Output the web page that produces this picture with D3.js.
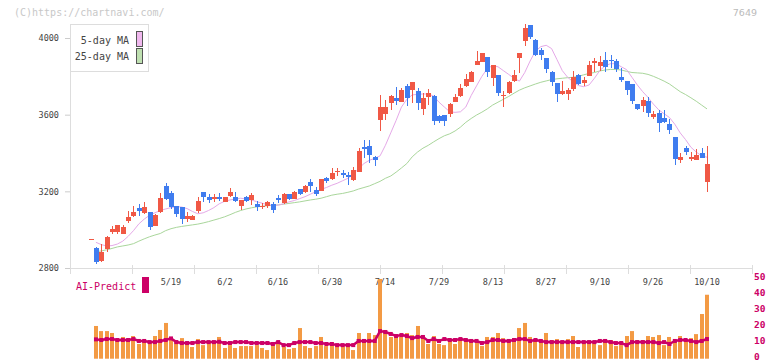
<!DOCTYPE html>
<html>
<head>
<meta charset="utf-8">
<script src="https://cdn.jsdelivr.net/npm/d3@7"></script>
<style>
  body { margin: 0; background: #fff; }
  svg { display: block; font-family: "DejaVu Sans Mono", monospace; }
</style>
</head>
<body>
<svg id="chart" width="772" height="361"></svg>
<script>
// trading days, 2025
const dates = ["4/23","4/24","4/25","4/28","4/30","5/1","5/2","5/7","5/8","5/9",
  "5/12","5/13","5/14","5/15","5/16","5/19","5/20","5/21","5/22","5/23",
  "5/26","5/27","5/28","5/29","5/30","6/2","6/3","6/4","6/5","6/6",
  "6/9","6/10","6/11","6/12","6/13","6/16","6/17","6/18","6/19","6/20",
  "6/23","6/24","6/25","6/26","6/27","6/30","7/1","7/2","7/3","7/4",
  "7/7","7/8","7/9","7/10","7/11","7/14","7/15","7/16","7/17","7/18",
  "7/22","7/23","7/24","7/25","7/28","7/29","7/30","7/31","8/1","8/4",
  "8/5","8/6","8/7","8/8","8/12","8/13","8/14","8/15","8/18","8/19",
  "8/20","8/21","8/22","8/25","8/26","8/27","8/28","8/29","9/1","9/2",
  "9/3","9/4","9/5","9/8","9/9","9/10","9/11","9/12","9/16","9/17",
  "9/18","9/19","9/22","9/24","9/25","9/26","9/29","9/30","10/1","10/2",
  "10/3","10/6","10/7","10/8","10/9","10/10"];

const open = [2950,2903,2838,2899,2988,2990,2979,3045,3073,3113,
  3087,3092,3019,3092,3228,3191,3123,3118,3056,3050,
  3096,3196,3170,3160,3170,3144,3175,3170,3125,3170,
  3156,3134,3120,3123,3134,3167,3141,3186,3162,3212,
  3196,3249,3207,3203,3268,3266,3299,3294,3285,3259,
  3302,3431,3437,3379,3573,3605,3661,3687,3666,3750,
  3729,3723,3632,3694,3697,3593,3598,3605,3668,3697,
  3752,3770,3861,3875,3901,3791,3807,3697,3715,3775,
  3897,3986,4068,3989,3937,3896,3822,3765,3710,3710,
  3736,3807,3767,3802,3872,3854,3885,3886,3880,3796,
  3776,3760,3656,3645,3671,3588,3609,3582,3551,3483,
  3365,3426,3370,3365,3402,3250];
const high = [2950,2911,2925,2967,3017,3024,3024,3096,3123,3134,
  3144,3092,3080,3191,3242,3202,3123,3118,3092,3076,
  3172,3196,3188,3186,3191,3170,3217,3196,3155,3175,
  3191,3150,3141,3150,3144,3181,3191,3186,3202,3212,
  3233,3264,3222,3264,3277,3322,3322,3311,3301,3329,
  3426,3470,3470,3384,3702,3676,3702,3744,3739,3760,
  3770,3739,3713,3734,3702,3598,3598,3661,3707,3760,
  3812,3830,3932,3922,3901,3859,3807,3725,3775,3833,
  3922,4073,4068,3995,3948,3896,3827,3765,3776,3739,
  3828,3812,3796,3880,3896,3906,3927,3911,3890,3843,
  3776,3760,3656,3692,3692,3619,3624,3624,3577,3483,
  3400,3436,3407,3421,3426,3436];
const low = [2950,2819,2833,2885,2979,2976,2976,3033,3068,3071,
  3082,2998,3019,3087,3155,3108,3066,3029,3040,3050,
  3089,3144,3141,3144,3149,3144,3170,3144,3105,3144,
  3130,3099,3110,3115,3087,3141,3136,3156,3162,3181,
  3191,3196,3175,3203,3243,3259,3282,3270,3233,3254,
  3302,3376,3348,3332,3515,3572,3624,3650,3666,3647,
  3661,3624,3596,3650,3546,3557,3541,3588,3668,3692,
  3744,3770,3861,3875,3795,3752,3697,3642,3707,3770,
  3816,3960,3996,3908,3885,3819,3752,3666,3702,3679,
  3725,3755,3749,3802,3822,3828,3822,3843,3822,3770,
  3705,3656,3625,3614,3588,3577,3511,3557,3500,3339,
  3348,3391,3358,3365,3376,3198];
const close = [2950,2833,2885,2962,3003,3023,3014,3066,3092,3099,
  3118,3016,3075,3165,3160,3120,3083,3056,3071,3071,
  3150,3170,3156,3170,3158,3170,3196,3150,3155,3151,
  3181,3118,3125,3144,3104,3156,3186,3162,3196,3188,
  3228,3228,3186,3264,3255,3296,3308,3285,3276,3313,
  3410,3423,3390,3363,3640,3640,3697,3671,3729,3689,
  3770,3663,3687,3713,3569,3567,3569,3655,3692,3739,
  3786,3822,3880,3922,3822,3859,3715,3702,3770,3807,
  3922,4052,4005,3913,3913,3840,3772,3708,3723,3729,
  3796,3760,3781,3859,3878,3875,3849,3881,3838,3781,
  3730,3673,3630,3676,3609,3603,3557,3563,3518,3370,
  3379,3407,3379,3391,3376,3342];

const ma5 = [null,2934,2922,2915,2917,2925,2940,2965,2995,3030,
  3055,3075,3088,3100,3108,3115,3120,3118,3110,3095,
  3083,3088,3100,3115,3135,3148,3155,3160,3164,3160,
  3155,3146,3138,3130,3127,3128,3135,3145,3152,3162,
  3172,3185,3198,3210,3220,3232,3242,3255,3268,3290,
  3318,3345,3362,3372,3385,3440,3505,3570,3640,3680,
  3703,3706,3708,3708,3697,3665,3640,3615,3612,3615,
  3640,3700,3750,3800,3840,3856,3850,3830,3810,3790,
  3775,3820,3880,3932,3955,3962,3945,3888,3830,3795,
  3772,3752,3746,3755,3790,3830,3855,3866,3866,3850,
  3835,3795,3755,3720,3690,3655,3625,3605,3585,3550,
  3505,3470,3430,3405,3385,3378];
const ma25 = [null,2885,2889,2895,2902,2910,2915,2920,2927,2940,
  2952,2963,2972,2980,2995,3005,3012,3017,3021,3025,
  3029,3035,3042,3050,3058,3067,3078,3090,3100,3108,
  3114,3119,3122,3125,3127,3129,3133,3137,3141,3145,
  3150,3155,3159,3164,3172,3180,3185,3189,3195,3202,
  3212,3220,3228,3240,3252,3268,3280,3300,3322,3345,
  3380,3405,3425,3440,3458,3475,3490,3500,3515,3535,
  3560,3580,3598,3613,3630,3650,3665,3680,3695,3712,
  3728,3740,3750,3760,3769,3776,3783,3787,3790,3793,
  3795,3800,3808,3815,3820,3828,3833,3836,3836,3833,
  3826,3820,3818,3816,3810,3800,3788,3775,3760,3740,
  3720,3705,3688,3670,3650,3630];

const volume = [null,19.9,16.7,16.7,15.5,11.7,13,11.7,13.6,8.6,
  11.1,9.8,13.6,17.4,21.8,11.7,11.1,12.3,8.6,6.7,
  11.7,7.9,9.8,10.5,13,6.1,7.9,6.1,7.3,7.3,
  7.3,7.9,6.1,4.8,8.6,10.5,6.7,5.4,6.1,18.6,
  7.3,6.1,7.3,13,7.3,9.8,7.9,7.3,7.3,4.8,
  15.5,11.7,15.5,14.2,49.4,17.4,13,14.2,13,15.5,
  14.2,19.9,13.6,8.6,13.6,8.6,7.9,11.7,8.6,11.1,
  10.5,11.1,9.8,7.3,13,13,15.5,12.3,11.1,12.3,
  18.6,21.8,13,11.7,11.1,15.5,11.1,11.7,9.8,11.7,
  13.6,6.7,9.8,9.8,9.8,7.9,11.7,11.1,7.3,7.9,
  13.6,16.7,11.1,11.1,13.6,13,14.2,7.9,13,11.1,
  13.6,10.5,12.3,14.8,27.4,39.5];
const aiPredict = [null,11.5,11.1,11.7,11.7,11.1,11.1,11.1,11.7,10.5,
  10.5,9.8,9.8,10.5,11.1,12.1,9.8,9.2,9.2,9.2,
  9.8,9.8,9.8,9.8,10,9.2,9.2,9.8,9.8,9.8,
  9.2,9.2,9.2,9.2,8.6,9.8,7.9,7.9,9.2,9.8,
  9.8,9.8,9.2,9.2,8.6,8.6,7.9,7.9,7.9,7.9,
  10.5,10.5,10.5,10.5,16.7,16.1,14.9,13.6,14.2,13.6,
  12.3,13,13,10.5,11.7,10.5,11.7,11.1,11.1,11.7,
  11.1,10.5,10.5,9.2,9.8,11.1,11.1,10.5,10.5,11.1,
  11.7,11.7,10.5,11.1,10.5,9.8,9.8,9.8,9.8,9.8,
  9.8,9.8,9.8,9.8,9.8,10.5,10.5,9.8,9.2,9.2,
  7.9,9.8,9.8,9.8,9.8,9.8,9.2,9.8,8.6,10.5,
  11.1,11.1,10.5,9.8,10.5,11.7];

const dateTicks = ["5/19","6/2","6/16","6/30","7/14","7/29","8/13","8/27","9/10","9/26","10/10"];
const priceTicks = [2800, 3200, 3600, 4000];
const volTicks = [0, 10, 20, 30, 40, 50];

const svg = d3.select("#chart");
const left = 70, right = 752;
const UP = "#f05845", DOWN = "#3f7cef", AI = "#cc0066";

const x = d3.scalePoint().domain(dates).range([90.6, 707]);
const y = d3.scaleLinear().domain([2800, 4000]).range([268, 38]);
const vy = d3.scaleLinear().domain([0, 50]).range([357.7, 278]);
const px = d => Math.round(x(d));

// header texts
svg.append("text").attr("x", 14).attr("y", 12.5).attr("dy", "0.35em")
  .style("font-size", "10px").attr("fill", "#c8c8c8").text("(C)https://chartnavi.com/");
svg.append("text").attr("x", 757).attr("y", 12.5).attr("dy", "0.35em")
  .attr("text-anchor", "end").style("font-family", "'DejaVu Sans', sans-serif")
  .style("font-size", "9.5px").attr("fill", "#bbb").text("7649");

// axes frame
svg.append("line").attr("x1", left + 0.5).attr("x2", left + 0.5).attr("y1", 24).attr("y2", 273)
  .attr("stroke", "#ddd");
svg.append("line").attr("x1", left).attr("x2", right).attr("y1", 268.5).attr("y2", 268.5)
  .attr("stroke", "#ddd");

// bottom tick marks (grid divisions)
const gx = d3.scaleLinear().domain([0, 11]).range([left, right]);
svg.append("g").selectAll("line").data(d3.range(0, 12)).enter().append("line")
  .attr("x1", d => Math.round(gx(d)) + 0.5).attr("x2", d => Math.round(gx(d)) + 0.5)
  .attr("y1", 265).attr("y2", 274).attr("stroke", "#ddd");

// price axis
const yAxis = svg.append("g").attr("transform", `translate(${left},0)`)
  .call(d3.axisLeft(y).tickValues(priceTicks).tickFormat(d3.format("d")).tickSize(5).tickPadding(6));
yAxis.select(".domain").remove();
yAxis.selectAll("line").attr("stroke", "#ccc");
yAxis.selectAll("text").attr("fill", "#444")
  .style("font-family", "'DejaVu Sans Mono', monospace").style("font-size", "8.5px");

// date labels
svg.append("g").selectAll("text").data(dateTicks).enter().append("text")
  .attr("x", d => px(d)).attr("y", 282).attr("dy", "0.35em")
  .attr("text-anchor", "middle").style("font-size", "8.5px").attr("fill", "#444")
  .text(d => d);

// moving averages
const maLine = arr => d3.line()
  .defined((d, i) => arr[i] != null)
  .x((d, i) => x(dates[i]))
  .y((d, i) => y(arr[i]))(dates);
svg.append("path").attr("d", maLine(ma25)).attr("fill", "none")
  .attr("stroke", "#a9d69b").attr("stroke-width", 1);
svg.append("path").attr("d", maLine(ma5)).attr("fill", "none")
  .attr("stroke", "#e5a9e8").attr("stroke-width", 1);

// candles
const candles = svg.append("g").selectAll("g").data(dates).enter().append("g");
const col = (d, i) => close[i] >= open[i] ? UP : DOWN;
candles.append("rect")
  .attr("x", d => px(d)).attr("width", 1)
  .attr("y", (d, i) => Math.round(y(high[i])))
  .attr("height", (d, i) => Math.max(1, Math.round(y(low[i])) - Math.round(y(high[i]))))
  .attr("fill", col);
candles.append("rect")
  .attr("x", d => px(d) - 2).attr("width", 5)
  .attr("y", (d, i) => Math.round(y(Math.max(open[i], close[i]))))
  .attr("height", (d, i) => Math.max(1, Math.round(y(Math.min(open[i], close[i]))) - Math.round(y(Math.max(open[i], close[i])))))
  .attr("fill", col);

// legend
const lg = svg.append("g");
lg.append("rect").attr("x", left + 0.5).attr("y", 24.5).attr("width", 78).attr("height", 47)
  .attr("fill", "#fff").attr("stroke", "#ddd");
const legendItems = [["5-day MA", "#f0b8ee"], ["25-day MA", "#bfe0b1"]];
legendItems.forEach((it, i) => {
  lg.append("text").attr("x", 129).attr("y", 40 + i * 16).attr("dy", "0.35em")
    .attr("text-anchor", "end").style("font-size", "10px").attr("fill", "#444").text(it[0]);
  lg.append("rect").attr("x", 136.5).attr("y", 31.5 + i * 17).attr("width", 6).attr("height", 15)
    .attr("fill", it[1]).attr("stroke", "#555");
});

// volume panel
svg.append("g").selectAll("rect").data(dates.filter((d, i) => volume[i] != null)).enter().append("rect")
  .attr("x", d => px(d) - 2).attr("width", 4)
  .attr("y", d => vy(volume[dates.indexOf(d)]))
  .attr("height", d => vy(0) - vy(volume[dates.indexOf(d)]) + 1)
  .attr("fill", "#f39a44");

const aiPts = dates.map((d, i) => [x(d), aiPredict[i]]).filter(p => p[1] != null);
svg.append("path")
  .attr("d", d3.line().x(p => p[0]).y(p => vy(p[1]))(aiPts))
  .attr("fill", "none").attr("stroke", AI).attr("stroke-width", 2.5);
svg.append("g").selectAll("rect").data(aiPts).enter().append("rect")
  .attr("x", p => p[0] - 2).attr("y", p => vy(p[1]) - 2).attr("width", 4).attr("height", 4)
  .attr("fill", AI);

const vAxis = svg.append("g").attr("transform", `translate(${right},0)`)
  .call(d3.axisRight(vy).tickValues(volTicks).tickSize(0).tickPadding(2));
vAxis.select(".domain").remove();
vAxis.selectAll("text").attr("fill", AI).attr("dy", "0.2em").style("font-weight", "bold")
  .style("font-family", "'DejaVu Sans Mono', monospace").style("font-size", "9.5px");

svg.append("text").attr("x", 76).attr("y", 286).attr("dy", "0.35em")
  .style("font-size", "10px").attr("fill", AI).text("AI-Predict");
svg.append("rect").attr("x", 142).attr("y", 277).attr("width", 7).attr("height", 16).attr("fill", AI);
</script>
</body>
</html>
